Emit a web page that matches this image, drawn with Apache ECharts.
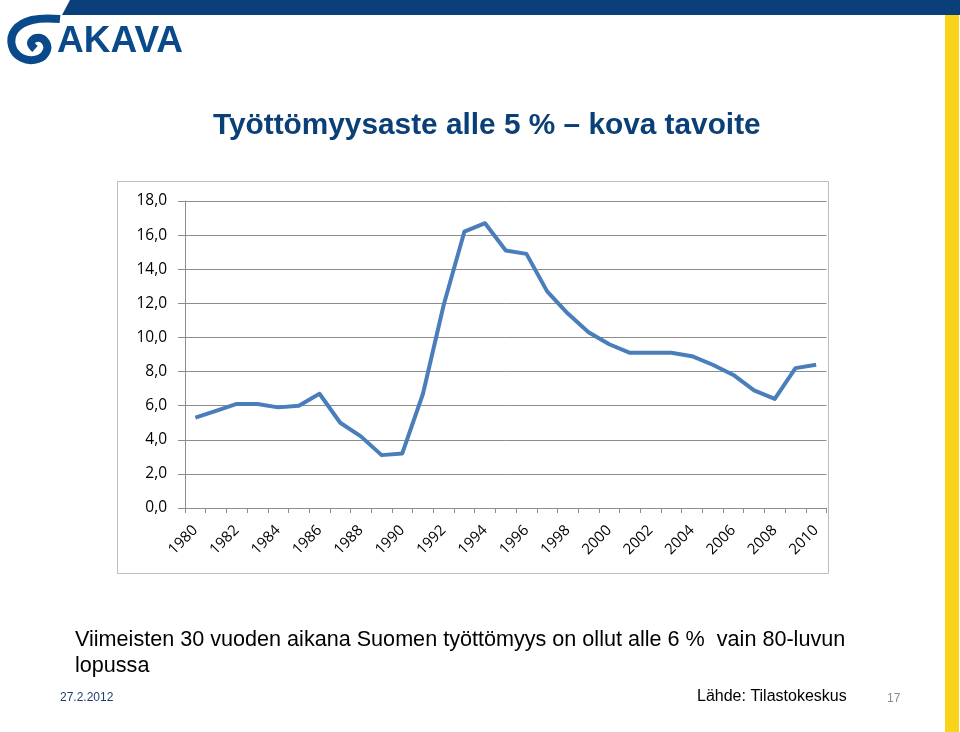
<!DOCTYPE html>
<html>
<head>
<meta charset="utf-8">
<script src="https://cdn.jsdelivr.net/npm/echarts@6/dist/echarts.min.js"></script>
<style>
  html, body { margin: 0; padding: 0; background: #fff; }
  #chart { width: 960px; height: 732px; }
</style>
</head>
<body>
<div id="chart"></div>
<script>
// vuodet ja työttömyysaste (%), luettu kuvasta
const years = ['1980', '1981', '1982', '1983', '1984', '1985', '1986', '1987', '1988', '1989',
  '1990', '1991', '1992', '1993', '1994', '1995', '1996', '1997', '1998', '1999',
  '2000', '2001', '2002', '2003', '2004', '2005', '2006', '2007', '2008', '2009', '2010'];
const rate = [5.3, 5.7, 6.1, 6.1, 5.9, 6.0, 6.7, 5.0, 4.2, 3.1,
  3.2, 6.7, 11.9, 16.2, 16.7, 15.1, 14.9, 12.7, 11.4, 10.3,
  9.6, 9.1, 9.1, 9.1, 8.9, 8.4, 7.8, 6.9, 6.4, 8.2, 8.4];
const yTicks = [0, 2, 4, 6, 8, 10, 12, 14, 16, 18];

const navy = '#0b3f78';
const sans = '"Liberation Sans", Arial, sans-serif';
const chartFont = '"Open Sans", "DejaVu Sans", sans-serif';

const myChart = echarts.init(document.getElementById('chart'));

const option = {
  backgroundColor: '#fff',
  animation: false,
  grid: {
    left: 185,
    right: 133.5,
    top: 201,
    bottom: 224
  },
  xAxis: {
    type: 'category',
    data: years,
    boundaryGap: true,
    axisLine: { lineStyle: { color: '#8c8c8c', width: 1 } },
    axisTick: { show: true, interval: 0, length: 5, lineStyle: { color: '#8c8c8c' } },
    axisLabel: {
      interval: 1,
      rotate: 45,
      margin: 20,
      color: '#000',
      fontFamily: chartFont,
      fontSize: 15
    },
    splitLine: { show: false }
  },
  yAxis: {
    type: 'value',
    min: yTicks[0],
    max: yTicks[yTicks.length - 1],
    interval: 2,
    axisLine: { show: true, lineStyle: { color: '#8c8c8c', width: 1 } },
    axisTick: { show: true, length: 7, lineStyle: { color: '#8c8c8c' } },
    axisLabel: {
      margin: 18,
      color: '#000',
      fontFamily: chartFont,
      fontSize: 15.5,
      formatter: v => v.toFixed(1).replace('.', ',')
    },
    splitLine: { show: true, lineStyle: { color: '#8c8c8c', width: 1 } }
  },
  series: [
    {
      type: 'line',
      data: rate,
      symbol: 'none',
      lineStyle: { color: '#4a7ebb', width: 4, join: 'round' }
    }
  ],
  graphic: [
    // yläpalkki
    {
      type: 'polygon',
      shape: { points: [[70, 0], [960, 0], [960, 15], [62, 15]] },
      style: { fill: '#0a3f7a' }
    },
    // keltainen reunapalkki
    {
      type: 'rect',
      shape: { x: 945, y: 15, width: 14, height: 717 },
      style: { fill: '#f9d21a' }
    },
    // logo
    {
      type: 'polyline',
      shape: {
        points: [[60, 19], [32, 20], [15, 30], [12, 46], [22, 58], [38, 59], [47, 50], [44, 40], [36, 38], [31, 43], [35, 49]],
        smooth: 0.4
      },
      style: { fill: null, stroke: '#0a4a8a', lineWidth: 8 }
    },
    {
      type: 'text',
      left: 57,
      top: 23,
      style: {
        text: 'AKAVA',
        font: 'bold 37px ' + sans,
        fill: '#0a4a8a'
      }
    },
    // otsikko
    {
      type: 'text',
      left: 213,
      top: 111,
      style: {
        text: 'Työttömyysaste alle 5 % – kova tavoite',
        font: 'bold 29.8px ' + sans,
        fill: navy
      }
    },
    // kaavion kehys
    {
      type: 'rect',
      z: -1,
      shape: { x: 117.5, y: 181.5, width: 711, height: 392 },
      style: { fill: '#fff', stroke: '#bdbdbd', lineWidth: 1 }
    },
    // huomautus
    {
      type: 'text',
      left: 75,
      top: 627,
      style: {
        text: 'Viimeisten 30 vuoden aikana Suomen työttömyys on ollut alle 6 %  vain 80-luvun\nlopussa',
        font: '21.6px ' + sans,
        lineHeight: 26,
        fill: '#000'
      }
    },
    {
      type: 'text',
      left: 60,
      top: 692,
      style: { text: '27.2.2012', font: '12px ' + sans, fill: '#1f3f6f' }
    },
    {
      type: 'text',
      left: 697,
      top: 689,
      style: { text: 'Lähde: Tilastokeskus', font: '16px ' + sans, fill: '#000' }
    },
    {
      type: 'text',
      left: 887,
      top: 693,
      style: { text: '17', font: '12px ' + sans, fill: '#8c8c8c' }
    }
  ]
};

myChart.setOption(option);
</script>
</body>
</html>
